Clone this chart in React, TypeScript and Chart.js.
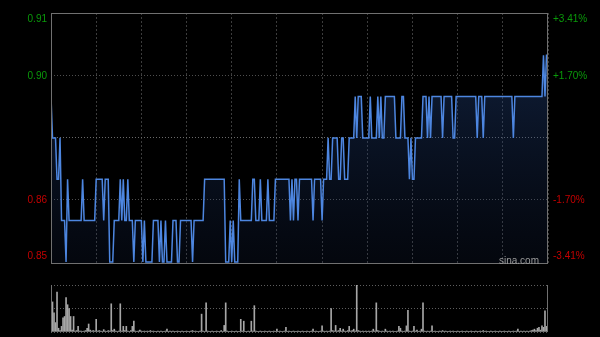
import React, { useEffect, useRef } from "react";
import { Chart, registerables } from "chart.js";

Chart.register(...registerables);

// One price per trading minute (09:30-12:00, 13:00-16:00)
const prices: number[] = [
  0.89, 0.88, 0.88, 0.88, 0.87, 0.87, 0.88, 0.86, 0.86, 0.86,
  0.85, 0.87, 0.86, 0.86, 0.86, 0.86, 0.86, 0.86, 0.86, 0.86,
  0.86, 0.87, 0.86, 0.86, 0.86, 0.86, 0.86, 0.86, 0.86, 0.86,
  0.87, 0.87, 0.87, 0.87, 0.87, 0.86, 0.87, 0.87, 0.87, 0.85,
  0.85, 0.85, 0.86, 0.86, 0.86, 0.86, 0.87, 0.86, 0.87, 0.86,
  0.86, 0.87, 0.86, 0.86, 0.86, 0.85, 0.86, 0.86, 0.86, 0.86,
  0.86, 0.85, 0.86, 0.85, 0.85, 0.85, 0.85, 0.85, 0.86, 0.86,
  0.86, 0.86, 0.85, 0.86, 0.85, 0.85, 0.86, 0.85, 0.85, 0.85,
  0.85, 0.86, 0.86, 0.86, 0.85, 0.85, 0.86, 0.86, 0.86, 0.86,
  0.86, 0.86, 0.86, 0.86, 0.85, 0.86, 0.86, 0.86, 0.86, 0.86,
  0.86, 0.86, 0.87, 0.87, 0.87, 0.87, 0.87, 0.87, 0.87, 0.87,
  0.87, 0.87, 0.87, 0.87, 0.87, 0.87, 0.85, 0.85, 0.85, 0.86,
  0.85, 0.86, 0.85, 0.85, 0.85, 0.87, 0.86, 0.86, 0.86, 0.86,
  0.86, 0.86, 0.86, 0.86, 0.87, 0.87, 0.86, 0.86, 0.86, 0.87,
  0.86, 0.86, 0.86, 0.86, 0.87, 0.86, 0.86, 0.86, 0.86, 0.87,
  0.87, 0.87, 0.87, 0.87, 0.87, 0.87, 0.87, 0.87, 0.87, 0.86,
  0.87, 0.86, 0.87, 0.87, 0.86, 0.87, 0.87, 0.87, 0.87, 0.87,
  0.87, 0.87, 0.87, 0.87, 0.86, 0.87, 0.87, 0.87, 0.87, 0.87,
  0.86, 0.87, 0.87, 0.87, 0.88, 0.87, 0.87, 0.88, 0.88, 0.88,
  0.88, 0.87, 0.87, 0.88, 0.88, 0.87, 0.87, 0.87, 0.88, 0.88,
  0.88, 0.88, 0.89, 0.88, 0.89, 0.89, 0.89, 0.88, 0.88, 0.88,
  0.88, 0.88, 0.89, 0.88, 0.88, 0.88, 0.88, 0.89, 0.88, 0.89,
  0.88, 0.88, 0.89, 0.89, 0.89, 0.89, 0.89, 0.89, 0.89, 0.88,
  0.88, 0.88, 0.88, 0.89, 0.89, 0.88, 0.88, 0.88, 0.87, 0.88,
  0.87, 0.87, 0.88, 0.88, 0.88, 0.88, 0.88, 0.89, 0.89, 0.89,
  0.88, 0.89, 0.88, 0.89, 0.89, 0.89, 0.89, 0.89, 0.89, 0.89,
  0.88, 0.89, 0.89, 0.89, 0.89, 0.89, 0.89, 0.88, 0.88, 0.89,
  0.89, 0.89, 0.89, 0.89, 0.89, 0.89, 0.89, 0.89, 0.89, 0.89,
  0.89, 0.89, 0.89, 0.88, 0.89, 0.89, 0.89, 0.88, 0.89, 0.89,
  0.89, 0.89, 0.89, 0.89, 0.89, 0.89, 0.89, 0.89, 0.89, 0.89,
  0.89, 0.89, 0.89, 0.89, 0.89, 0.89, 0.89, 0.88, 0.89, 0.89,
  0.89, 0.89, 0.89, 0.89, 0.89, 0.89, 0.89, 0.89, 0.89, 0.89,
  0.89, 0.89, 0.89, 0.89, 0.89, 0.89, 0.89, 0.90, 0.89, 0.90, 0.90,
];

// Volume per minute (relative units)
const volumes: number[] = [
  33, 64, 41, 20, 85, 8, 3, 12, 30, 33,
  73, 58, 50, 33, 4, 33, 2, 3, 12, 2,
  2, 1, 2, 3, 8, 17, 4, 2, 3, 2,
  27, 2, 3, 2, 1, 5, 2, 1, 3, 2,
  60, 3, 6, 2, 1, 2, 60, 2, 12, 3,
  12, 2, 1, 3, 12, 23, 2, 1, 2, 4,
  2, 1, 2, 1, 2, 1, 3, 1, 2, 1,
  1, 2, 1, 2, 1, 1, 2, 6, 1, 2,
  1, 2, 1, 1, 2, 1, 1, 2, 1, 1,
  2, 1, 1, 2, 3, 1, 2, 1, 1, 2,
  38, 2, 1, 62, 2, 1, 1, 2, 1, 1,
  2, 1, 1, 3, 1, 14, 62, 2, 1, 1,
  2, 1, 1, 2, 1, 1, 27, 2, 23, 1,
  1, 2, 1, 23, 2, 56, 2, 1, 1, 2,
  1, 1, 2, 1, 1, 2, 1, 1, 2, 1,
  6, 1, 2, 1, 1, 2, 10, 1, 2, 1,
  1, 2, 1, 1, 2, 1, 1, 2, 1, 1,
  2, 1, 1, 2, 6, 1, 2, 1, 1, 2,
  13, 2, 1, 2, 1, 2, 50, 3, 2, 14,
  2, 3, 8, 2, 6, 2, 1, 3, 12, 2,
  3, 6, 2, 100, 3, 2, 1, 2, 1, 2,
  1, 2, 1, 2, 6, 2, 62, 3, 2, 1,
  2, 1, 6, 2, 1, 2, 1, 2, 1, 1,
  2, 12, 8, 2, 1, 2, 13, 46, 2, 1,
  2, 12, 2, 4, 1, 2, 6, 62, 2, 1,
  2, 1, 2, 13, 1, 2, 1, 1, 2, 1,
  3, 1, 2, 1, 1, 2, 1, 2, 1, 1,
  2, 1, 1, 2, 1, 1, 2, 1, 1, 2,
  1, 1, 2, 1, 1, 2, 1, 3, 1, 2,
  1, 1, 2, 1, 1, 2, 1, 1, 2, 1,
  1, 2, 1, 1, 2, 1, 1, 2, 1, 2,
  6, 1, 2, 1, 2, 1, 2, 1, 2, 3,
  4, 6, 3, 8, 10, 4, 13, 10, 45, 12, 3,
];

const timeGridTicks: number[] = [0, 30, 60, 90, 120, 150, 180, 210, 240, 270, 300, 330];
const priceLabels: string[] = ["0.85", "0.86", "", "0.90", "0.91"];
const pctLabels: string[] = ["-3.41%", "-1.70%", "", "+1.70%", "+3.41%"];
const prevClose = 0.88;

const GREEN = "#0a9a0a";
const RED = "#c40000";
const FONT = { family: "'Liberation Sans', Arial, sans-serif", size: 10 };

const framePlugin = {
  id: "frame",
  afterDraw(chart: any) {
    const { ctx, chartArea: a } = chart;
    ctx.save();
    ctx.strokeStyle = "#707070";
    ctx.lineWidth = 1;
    ctx.strokeRect(a.left + 0.5, a.top + 0.5, a.right - a.left - 1, a.bottom - a.top - 1);
    ctx.restore();
  },
};

const volFramePlugin = {
  id: "volframe",
  afterDraw(chart: any) {
    const { ctx, chartArea: a } = chart;
    ctx.save();
    ctx.strokeStyle = "#707070";
    ctx.lineWidth = 1;
    ctx.beginPath();
    ctx.moveTo(a.left + 0.5, a.top);
    ctx.lineTo(a.left + 0.5, a.bottom - 0.5);
    ctx.lineTo(a.right - 0.5, a.bottom - 0.5);
    ctx.lineTo(a.right - 0.5, a.top);
    ctx.stroke();
    ctx.restore();
  },
};

export default function App() {
  const mainRef = useRef<HTMLCanvasElement | null>(null);
  const volRef = useRef<HTMLCanvasElement | null>(null);

  useEffect(() => {
    const yMin = 0.8495;
    const yMax = 0.9102;
    const labelAnchors = [0.8514, 0.865, prevClose, 0.895, 0.9088];
    const setTicks = (ax: any) => {
      ax.ticks = labelAnchors.map((v) => ({ value: v }));
    };
    const tickColor = (ctx: any) =>
      ctx.tick && ctx.tick.value > prevClose ? GREEN : RED;

    const main = new Chart(mainRef.current!, {
      type: "line",
      data: {
        datasets: [
          {
            data: prices.map((p, i) => ({ x: i, y: p })),
            borderColor: "#4d86e0",
            borderWidth: 1.5,
            pointRadius: 0,
            tension: 0,
            fill: "start",
            backgroundColor: (c: any) => {
              const { chart } = c;
              const area = chart.chartArea;
              if (!area) return "rgba(0,0,0,0)";
              const g = chart.ctx.createLinearGradient(0, area.top, 0, area.bottom);
              g.addColorStop(0, "rgba(40,80,150,0.45)");
              g.addColorStop(1, "rgba(25,45,90,0.15)");
              return g;
            },
          },
        ],
      },
      options: {
        animation: false,
        responsive: false,
        maintainAspectRatio: false,
        layout: { padding: { top: 13, bottom: 7, left: 0, right: 0 } },
        plugins: { legend: { display: false }, tooltip: { enabled: false } },
        scales: {
          x: {
            type: "linear",
            min: 0,
            max: 330,
            afterBuildTicks: (ax: any) => {
              ax.ticks = timeGridTicks.map((v) => ({ value: v }));
            },
            ticks: { display: false },
            grid: { color: "#3c3c3c", drawTicks: false },
            border: { display: false, dash: [2, 2] },
            afterFit: (s: any) => {
              s.height = 0;
            },
          },
          y: {
            position: "left",
            min: yMin,
            max: yMax,
            afterBuildTicks: setTicks,
            ticks: {
              color: tickColor,
              font: FONT,
              padding: 4,
              callback: (_v: any, i: number) => priceLabels[i],
            },
            grid: {
              drawTicks: false,
              color: (c: any) =>
                c.index === 0 || c.index === 4
                  ? "rgba(0,0,0,0)"
                  : c.index === 2
                  ? "#6a6a6a"
                  : "#4e4e4e",
            },
            border: { display: false, dash: [1, 2] },
            afterFit: (s: any) => {
              s.width = 51;
            },
          },
          y2: {
            position: "right",
            min: yMin,
            max: yMax,
            afterBuildTicks: setTicks,
            ticks: {
              color: tickColor,
              font: FONT,
              padding: 5,
              callback: (_v: any, i: number) => pctLabels[i],
            },
            grid: { display: false, drawTicks: false },
            border: { display: false },
            afterFit: (s: any) => {
              s.width = 52;
            },
          },
        },
      },
      plugins: [framePlugin],
    } as any);

    const vol = new Chart(volRef.current!, {
      type: "bar",
      data: {
        datasets: [
          {
            data: volumes.map((v, i) => ({ x: i, y: v })),
            backgroundColor: "#a6a6a6",
            borderWidth: 0,
            barThickness: 1,
          },
        ],
      },
      options: {
        animation: false,
        responsive: false,
        maintainAspectRatio: false,
        layout: { padding: { top: 7, bottom: 5, left: 51, right: 52 } },
        plugins: { legend: { display: false }, tooltip: { enabled: false } },
        scales: {
          x: {
            type: "linear",
            min: 0,
            max: 330,
            offset: false,
            display: false,
            grid: { offset: false },
          },
          y: {
            min: 0,
            max: 100,
            afterBuildTicks: (ax: any) => {
              ax.ticks = [{ value: 0 }, { value: 50 }, { value: 100 }];
            },
            ticks: { display: false },
            grid: { color: "#5e5e5e", drawTicks: false },
            border: { display: false, dash: [1, 2] },
            afterFit: (s: any) => {
              s.width = 0;
            },
          },
        },
      },
      plugins: [volFramePlugin],
    } as any);

    return () => {
      main.destroy();
      vol.destroy();
    };
  }, []);

  return (
    <div
      style={{
        position: "fixed",
        left: 0,
        top: 0,
        width: 600,
        height: 337,
        background: "#000",
        overflow: "hidden",
      }}
    >
      <canvas
        ref={mainRef}
        width={600}
        height={275}
        style={{ position: "absolute", left: 0, top: 0, width: 600, height: 275 }}
      />
      <canvas
        ref={volRef}
        width={600}
        height={59}
        style={{ position: "absolute", left: 0, top: 278, width: 600, height: 59 }}
      />
      <span
        style={{
          position: "absolute",
          left: 499,
          top: 255,
          fontFamily: "'Liberation Sans', Arial, sans-serif",
          fontSize: 10,
          lineHeight: "12px",
          color: "#9a9a9a",
        }}
      >
        sina.com
      </span>
    </div>
  );
}
